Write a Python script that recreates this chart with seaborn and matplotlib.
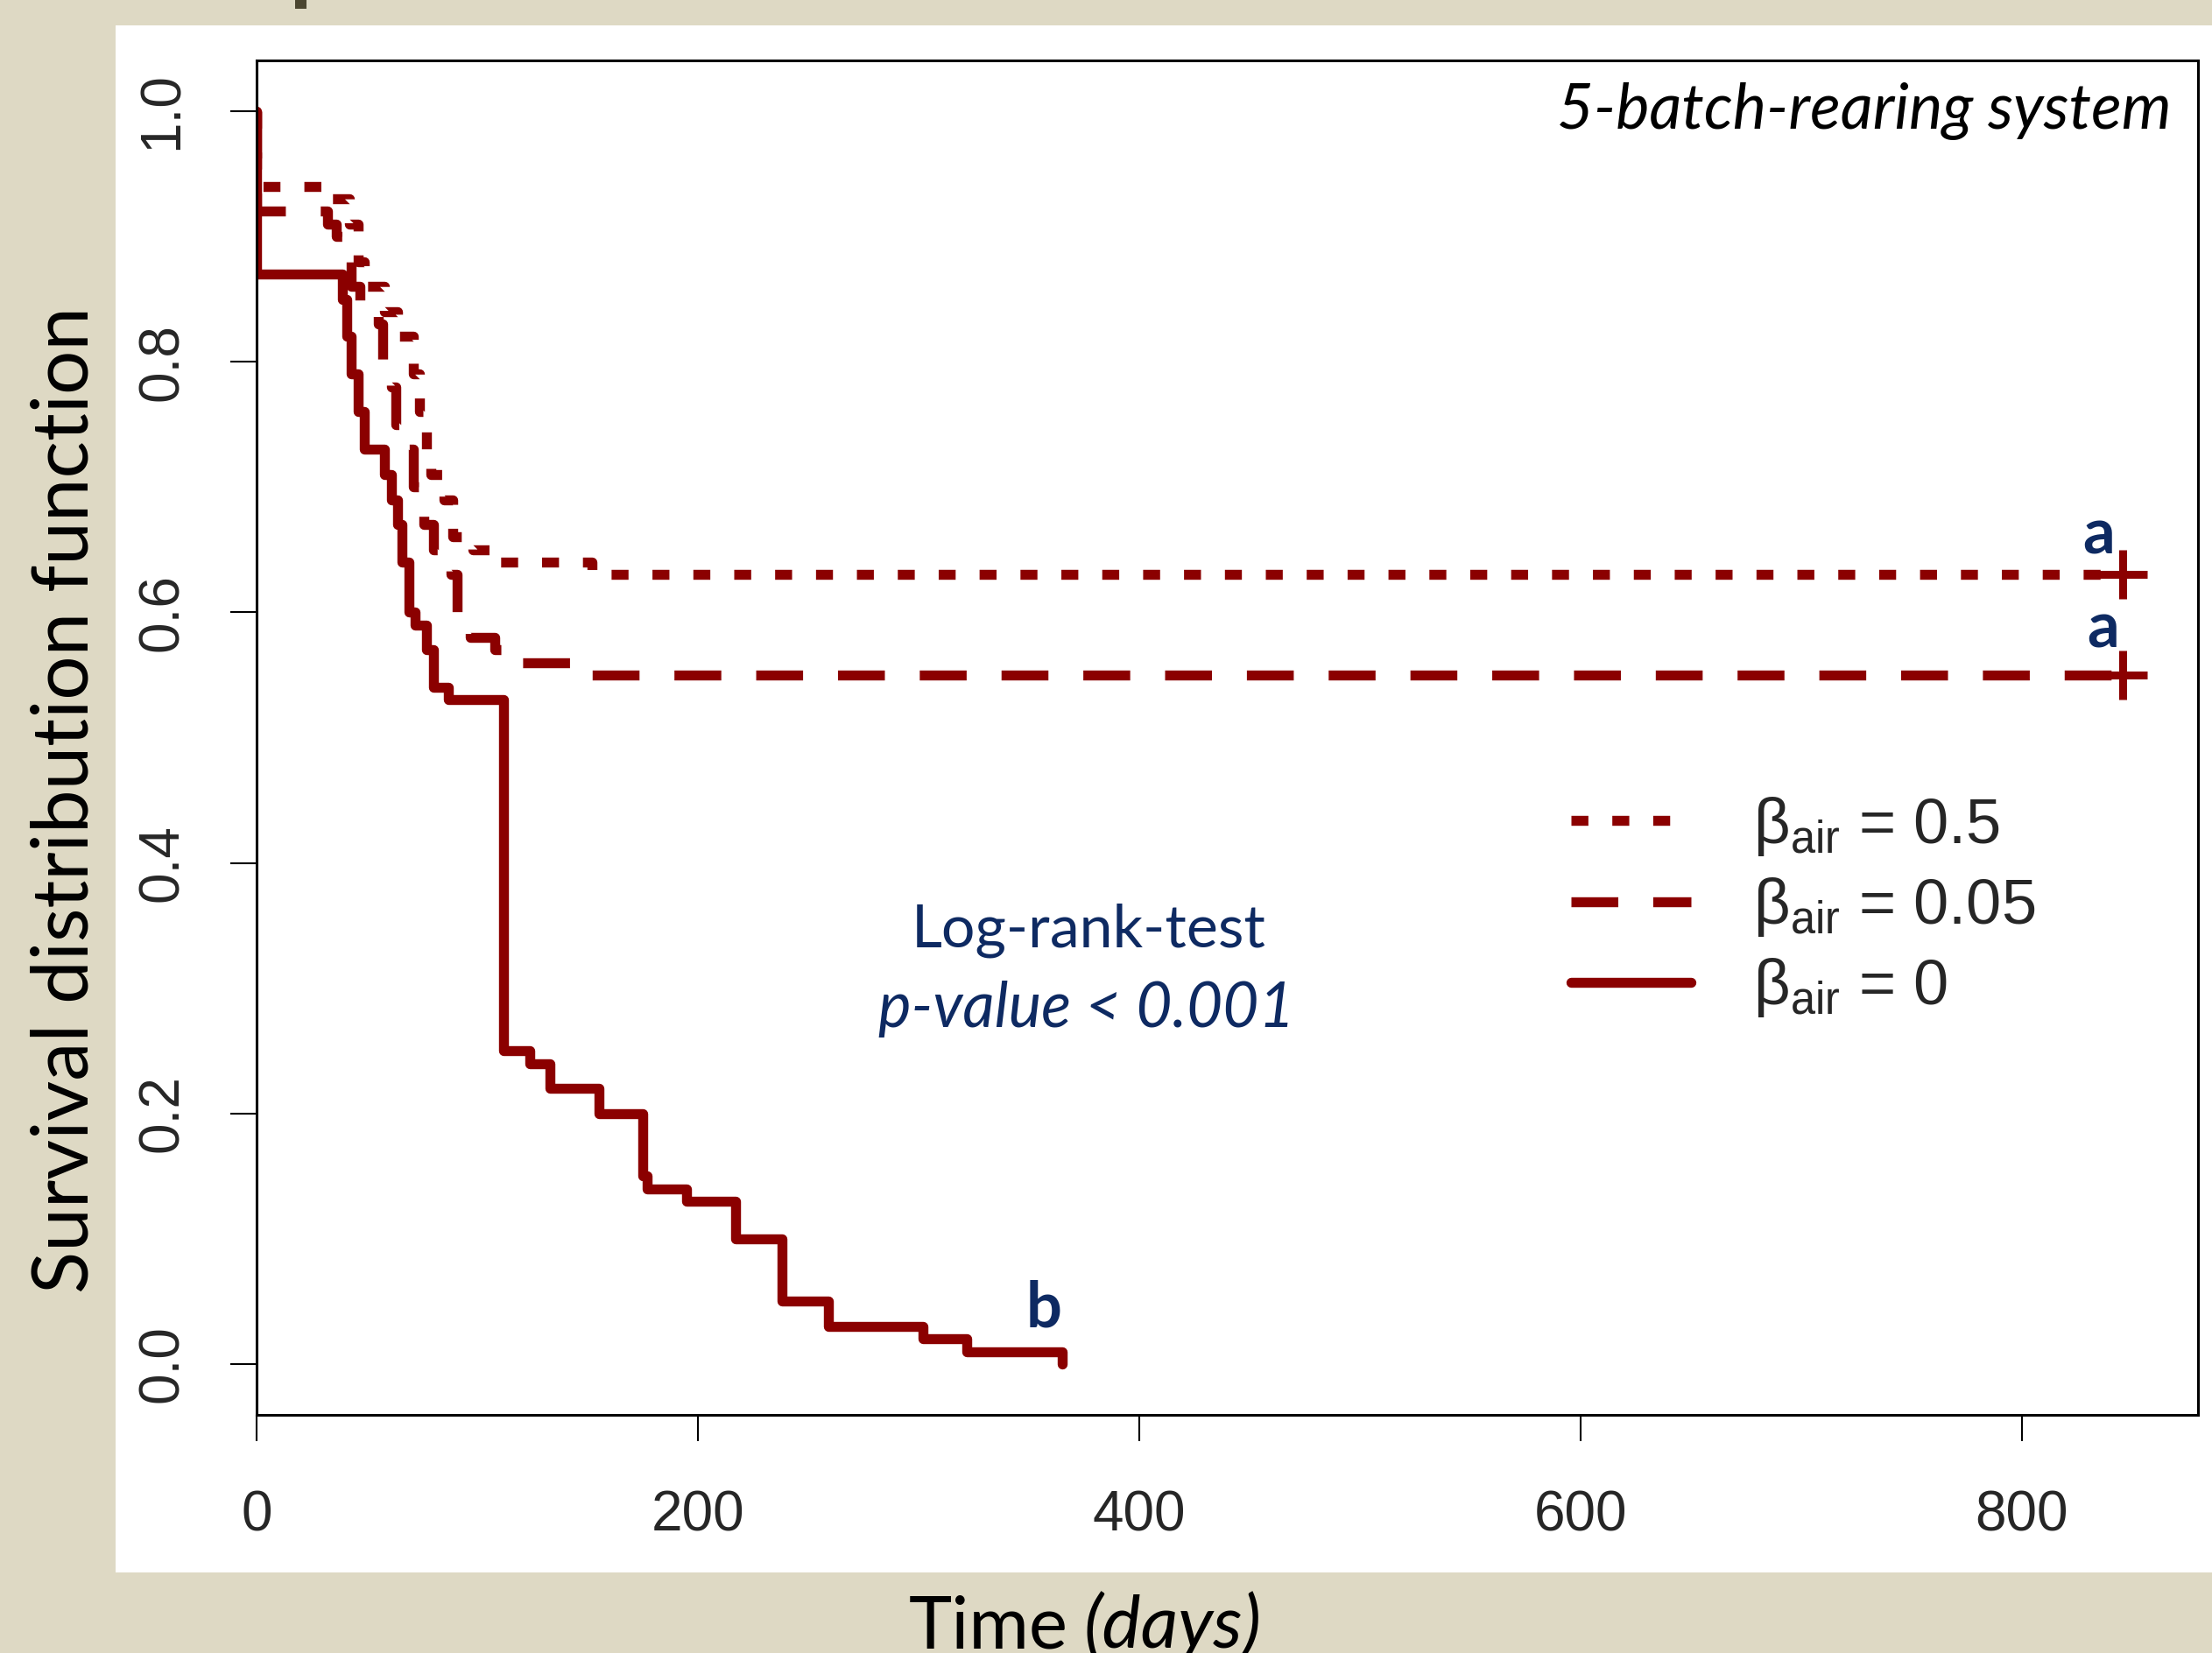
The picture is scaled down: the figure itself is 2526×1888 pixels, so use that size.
import matplotlib.pyplot as plt
import numpy as np
import pandas as pd
import seaborn as sns
from matplotlib.lines import Line2D
from matplotlib.patches import Rectangle

# 0단계 - 그림에서 읽은 생존 곡선 (일수, 생존율)
time_b05 = [0, 0, 33, 42, 46, 49, 58, 64, 71, 74, 77, 79, 85, 89, 98, 110, 152, 846]
surv_b05 = [1.0, 0.94, 0.93, 0.91, 0.88, 0.86, 0.84, 0.82, 0.79, 0.76, 0.73, 0.71, 0.69, 0.66, 0.65, 0.64, 0.63, 0.63]

time_b005 = [0, 0, 32, 36, 39, 43, 47, 55, 57, 61, 63, 68, 71, 74, 76, 80, 88, 91, 97, 108, 118, 150, 846]
surv_b005 = [1.0, 0.92, 0.91, 0.90, 0.88, 0.86, 0.84, 0.83, 0.80, 0.78, 0.75, 0.73, 0.70, 0.69, 0.67, 0.65, 0.63, 0.60, 0.58, 0.57, 0.56, 0.55, 0.55]

time_b0 = [0, 0, 39, 41, 43, 46, 49, 58, 61, 64, 66, 69, 72, 77, 80, 87, 112, 124, 133, 155, 175, 177, 195, 217, 238, 259, 302, 322, 365]
surv_b0 = [1.0, 0.87, 0.85, 0.82, 0.79, 0.76, 0.73, 0.71, 0.69, 0.67, 0.64, 0.60, 0.59, 0.57, 0.54, 0.53, 0.25, 0.24, 0.22, 0.20, 0.15, 0.14, 0.13, 0.10, 0.05, 0.03, 0.02, 0.01, 0.0]

# 중도절단 (+) 표시
censor_time = [846, 846]
censor_surv = [0.63, 0.55]

groups = ["0.5", "0.05", "0"]
group_labels = ["β$_{\\mathrm{air}}$ = 0.5", "β$_{\\mathrm{air}}$ = 0.05", "β$_{\\mathrm{air}}$ = 0"]

x_ticks = [0, 200, 400, 600, 800]
y_ticks = [0.0, 0.2, 0.4, 0.6, 0.8, 1.0]

df = pd.concat([
    pd.DataFrame({"time": time_b05, "surv": surv_b05, "beta": "0.5"}),
    pd.DataFrame({"time": time_b005, "surv": surv_b005, "beta": "0.05"}),
    pd.DataFrame({"time": time_b0, "surv": surv_b0, "beta": "0"}),
], ignore_index=True)

# 1단계 - 스타일
sns.set_style("ticks")
plt.rcParams["font.family"] = ["Lato", "DejaVu Sans"]
plt.rcParams["mathtext.fontset"] = "custom"
plt.rcParams["mathtext.rm"] = "Liberation Sans"
plt.rcParams["mathtext.it"] = "Liberation Sans:italic"

red = "#8B0000"
navy = "#0E2A62"
beige = "#DED9C4"
lw = 8.2
dash_styles = {"0.5": (1.7, 2.4), "0.05": (4.7, 3.5), "0": ""}

fig = plt.figure(figsize=(25.26, 18.88), dpi=100)
fig.patch.set_facecolor(beige)
fig.add_artist(Rectangle((0.0523, 0.0487), 0.96, 0.9359, transform=fig.transFigure,
                         facecolor="white", edgecolor="none", zorder=0))
fig.add_artist(Rectangle((0.1334, 0.9947), 0.0051, 0.0060, transform=fig.transFigure,
                         facecolor="#4B4630", edgecolor="none"))

ax = fig.add_axes([0.116, 0.1441, 0.8777, 0.8194])
ax.set_facecolor("white")

# 2단계 - 생존 곡선
sns.lineplot(data=df, x="time", y="surv", hue="beta", style="beta",
             palette={g: red for g in groups}, dashes=dash_styles,
             estimator=None, sort=False, drawstyle="steps-post",
             lw=lw, legend=False, ax=ax)
ax.plot(censor_time, censor_surv, ls="none", marker="+", ms=40, mew=6.5, color=red)

ax.set_xlim(0, 880)
ax.set_ylim(-0.0405, 1.0405)
ax.set_xticks(x_ticks)
ax.set_xticklabels([str(t) for t in x_ticks])
ax.set_yticks(y_ticks)
ax.set_yticklabels([f"{t:.1f}" for t in y_ticks], rotation=90, va="center")
ax.set_xlabel("")
ax.set_ylabel("")

for s in ax.spines.values():
    s.set_visible(True)
    s.set_linewidth(2.2)
    s.set_color("black")
ax.tick_params(axis="both", length=21.6, width=1.5, color="black", labelsize=46)
ax.tick_params(axis="x", pad=40)
ax.tick_params(axis="y", pad=34)
for lab in ax.get_xticklabels() + ax.get_yticklabels():
    lab.set_fontfamily("Liberation Sans")

# 3단계 - 글자
ax.text(868, 1.0, "5-batch-rearing system", ha="right", va="center",
        style="italic", fontsize=52, color="black")
ax.text(377, 0.346, "Log-rank-test", ha="center", va="center", fontsize=49, color=navy)
ax.text(376, 0.283, "p-value < 0.001", ha="center", va="center", style="italic",
        fontsize=51, color=navy)
ax.text(835, 0.661, "a", ha="center", va="center", fontsize=52, fontweight="bold", color=navy)
ax.text(837, 0.586, "a", ha="center", va="center", fontsize=52, fontweight="bold", color=navy)
ax.text(357, 0.044, "b", ha="center", va="center", fontsize=52, fontweight="bold", color=navy)

# 범례
handles = [Line2D([], [], color=red, lw=lw, linestyle=(0, dash_styles[g]) if dash_styles[g] else "-")
           for g in groups]
leg = ax.legend(handles, group_labels, loc="center left", bbox_to_anchor=(0.677, 0.375),
                frameon=False, fontsize=52, handlelength=1.9, handletextpad=0.98,
                labelspacing=0.28, borderpad=0, borderaxespad=0)
for t in leg.get_texts():
    t.set_fontfamily("Liberation Sans")

# 축 제목 (베이지 영역)
fig.text(0.030, 0.516, "Survival distribution function", rotation=90,
         ha="center", va="center", fontsize=64, color="black")
fig.text(0.483, 0.003, "Time", ha="right", va="baseline", fontsize=60, color="black")
fig.text(0.4897, 0.003, "(days)", ha="left", va="baseline", style="italic",
         fontsize=60, color="black")

fig.savefig("out.png", dpi=100, facecolor=beige)
